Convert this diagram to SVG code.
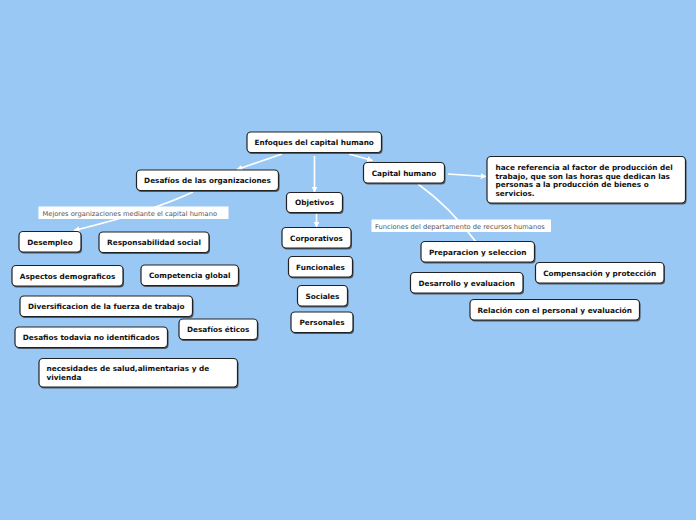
<svg xmlns="http://www.w3.org/2000/svg" width="696" height="520" viewBox="0 0 696 520">
<defs>
<style>
.n rect.s{fill:#333;opacity:0.75}
.n rect.b{fill:#fff;stroke:#222;stroke-width:1.2}
.n text{font-family:"DejaVu Sans",Verdana,sans-serif;font-weight:bold;font-size:7.3px;fill:#111;text-anchor:middle}
.n text.l{text-anchor:start}
.lab rect{fill:#fff}
.lab text{font-family:"DejaVu Sans",Verdana,sans-serif;font-size:6.7px;fill:#555}
.c path{fill:none;stroke:#fff;stroke-width:1.6}
</style>
<marker id="ar" viewBox="0 0 10 10" refX="9" refY="5" markerWidth="6" markerHeight="6" markerUnits="userSpaceOnUse" orient="auto">
<path d="M0,0 L10,5 L0,10 z" fill="#fff"/>
</marker>
</defs>
<rect width="696" height="520" fill="#9ac8f5"/>

<g class="c" id="connectors">
<path d="M282,154 L237,169.5" marker-end="url(#ar)"/>
<path d="M314.5,156 L314.5,192" marker-end="url(#ar)"/>
<path d="M349,154 L372.5,160.5" marker-end="url(#ar)"/>
<path d="M316.5,213.5 L316.5,227" marker-end="url(#ar)"/>
<path d="M448,174 L486,176.5" marker-end="url(#ar)"/>
<path d="M193,192 Q150,212 74,230.5" marker-end="url(#ar)"/>
<path d="M418,184 Q450,207 476,242"/>
</g>

<g class="lab" id="label-mejores">
<rect x="38.5" y="206.5" width="190" height="12.5"/>
<text x="42.5" y="215.5">Mejores organizaciones mediante el capital humano</text>
</g>
<g class="lab" id="label-funciones">
<rect x="371.5" y="219.5" width="179.5" height="12.5"/>
<text x="375" y="228.5">Funciones del departamento de recursos humanos</text>
</g>

<g class="n" id="n-enfoques"><rect class="s" x="248" y="133.5" width="134.5" height="20.5" rx="4"/><rect class="b" x="247" y="132" width="134.5" height="20.5" rx="4"/><text x="314.2" y="145">Enfoques del capital humano</text></g>
<g class="n" id="n-desafios"><rect class="s" x="137.5" y="171.5" width="142" height="20.5" rx="4"/><rect class="b" x="136.5" y="170" width="142" height="20.5" rx="4"/><text x="207.5" y="183">Desafíos de las organizaciones</text></g>
<g class="n" id="n-objetivos"><rect class="s" x="287.5" y="194" width="56" height="20" rx="4"/><rect class="b" x="286.5" y="192.5" width="56" height="20" rx="4"/><text x="314.5" y="205.3">Objetivos</text></g>
<g class="n" id="n-corporativos"><rect class="s" x="283" y="229" width="69" height="20.5" rx="4"/><rect class="b" x="282" y="227.5" width="69" height="20.5" rx="4"/><text x="316.5" y="240.5">Corporativos</text></g>
<g class="n" id="n-funcionales"><rect class="s" x="289.5" y="258" width="64" height="20.5" rx="4"/><rect class="b" x="288.5" y="256.5" width="64" height="20.5" rx="4"/><text x="320.5" y="269.5">Funcionales</text></g>
<g class="n" id="n-sociales"><rect class="s" x="298.5" y="287" width="50" height="20.5" rx="4"/><rect class="b" x="297.5" y="285.5" width="50" height="20.5" rx="4"/><text x="322.5" y="298.5">Sociales</text></g>
<g class="n" id="n-personales"><rect class="s" x="292" y="313.5" width="62" height="20.5" rx="4"/><rect class="b" x="291" y="312" width="62" height="20.5" rx="4"/><text x="322" y="325">Personales</text></g>
<g class="n" id="n-capital"><rect class="s" x="364.5" y="164" width="81" height="20.5" rx="4"/><rect class="b" x="363.5" y="162.5" width="81" height="20.5" rx="4"/><text x="404" y="175.5">Capital humano</text></g>
<g class="n" id="n-hace"><rect class="s" x="488" y="158" width="198.5" height="46.5" rx="4"/><rect class="b" x="487" y="156.5" width="198.5" height="46.5" rx="4"/><text class="l" x="495.5" y="169.5">hace referencia al factor de producción del</text><text class="l" x="495.5" y="178.5">trabajo, que son las horas que dedican las</text><text class="l" x="495.5" y="187">personas a la producción de bienes o</text><text class="l" x="495.5" y="195.5">servicios.</text></g>
<g class="n" id="n-desempleo"><rect class="s" x="20" y="233" width="62" height="20.5" rx="4"/><rect class="b" x="19" y="231.5" width="62" height="20.5" rx="4"/><text x="50" y="244.5">Desempleo</text></g>
<g class="n" id="n-responsabilidad"><rect class="s" x="100" y="233.5" width="110" height="20.5" rx="4"/><rect class="b" x="99" y="232" width="110" height="20.5" rx="4"/><text x="154" y="245">Responsabilidad social</text></g>
<g class="n" id="n-aspectos"><rect class="s" x="13" y="267" width="111" height="20.5" rx="4"/><rect class="b" x="12" y="265.5" width="111" height="20.5" rx="4"/><text x="67.5" y="278.5">Aspectos demograficos</text></g>
<g class="n" id="n-competencia"><rect class="s" x="142" y="266.5" width="97.5" height="20.5" rx="4"/><rect class="b" x="141" y="265" width="97.5" height="20.5" rx="4"/><text x="189.7" y="278">Competencia global</text></g>
<g class="n" id="n-diversificacion"><rect class="s" x="21" y="297.5" width="172.5" height="20.5" rx="4"/><rect class="b" x="20" y="296" width="172.5" height="20.5" rx="4"/><text x="106.2" y="309">Diversificacion de la fuerza de trabajo</text></g>
<g class="n" id="n-eticos"><rect class="s" x="180" y="320.5" width="78.5" height="20.5" rx="4"/><rect class="b" x="179" y="319" width="78.5" height="20.5" rx="4"/><text x="218.2" y="332">Desafíos éticos</text></g>
<g class="n" id="n-todavia"><rect class="s" x="16" y="328.5" width="152.5" height="20.5" rx="4"/><rect class="b" x="15" y="327" width="152.5" height="20.5" rx="4"/><text x="91.2" y="340">Desafios todavia no identificados</text></g>
<g class="n" id="n-necesidades"><rect class="s" x="40" y="360" width="198.5" height="28.5" rx="4"/><rect class="b" x="39" y="358.5" width="198.5" height="28.5" rx="4"/><text class="l" x="46.5" y="370.8">necesidades de salud,alimentarias y de</text><text class="l" x="46.5" y="380">vivienda</text></g>
<g class="n" id="n-preparacion"><rect class="s" x="422" y="243" width="113.5" height="20.5" rx="4"/><rect class="b" x="421" y="241.5" width="113.5" height="20.5" rx="4"/><text x="477.7" y="254.5">Preparacion y seleccion</text></g>
<g class="n" id="n-desarrollo"><rect class="s" x="411.5" y="274" width="112.5" height="20.5" rx="4"/><rect class="b" x="410.5" y="272.5" width="112.5" height="20.5" rx="4"/><text x="466.7" y="285.5">Desarrollo y evaluacion</text></g>
<g class="n" id="n-compensacion"><rect class="s" x="536.5" y="264" width="128.5" height="20.5" rx="4"/><rect class="b" x="535.5" y="262.5" width="128.5" height="20.5" rx="4"/><text x="599.7" y="275.5">Compensación y protección</text></g>
<g class="n" id="n-relacion"><rect class="s" x="471" y="301" width="169.5" height="20.5" rx="4"/><rect class="b" x="470" y="299.5" width="169.5" height="20.5" rx="4"/><text x="554.7" y="312.5">Relación con el personal y evaluación</text></g>
</svg>
